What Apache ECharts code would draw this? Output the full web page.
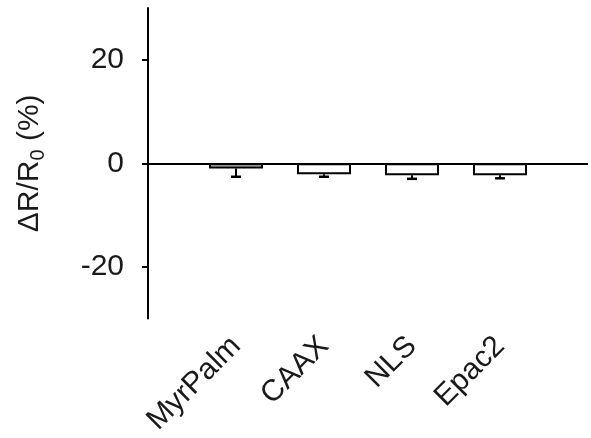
<!DOCTYPE html>
<html>
<head>
<meta charset="utf-8">
<script src="https://cdn.jsdelivr.net/npm/echarts@6/dist/echarts.min.js"></script>
<style>html,body{margin:0;padding:0;background:#fff}#c{width:591px;height:438px}</style>
</head>
<body>
<div id="c"></div>
<script>
const categories = ['MyrPalm', 'CAAX', 'NLS', 'Epac2'];
const means = [-1.0, -2.1, -2.3, -2.3];
const errors = [1.6, 0.5, 0.7, 0.6];
const fills = ['#c8c8c8', '#ffffff', '#ffffff', '#ffffff'];
const yTicks = [-20, 0, 20];

const cats = [''].concat(categories, ['']);
const barData = [null].concat(means.map((v, i) => ({ value: v, itemStyle: { color: fills[i] } })), [null]);
const errData = categories.map((c, i) => [i + 1, means[i], means[i] - errors[i]]);
const FONT = 'Liberation Sans, Arial, sans-serif';

const chart = echarts.init(document.getElementById('c'));
chart.setOption({
  animation: false,
  backgroundColor: '#fff',
  grid: { left: 148, right: 3, top: 8, bottom: 118, containLabel: false },
  xAxis: {
    type: 'category', data: cats, boundaryGap: false,
    axisLine: { show: false }, axisTick: { show: false },
    axisLabel: { rotate: 45, margin: 23, interval: 0, fontSize: 30, color: '#1a1a1a', fontFamily: FONT },
    splitLine: { show: false }
  },
  yAxis: {
    type: 'value', min: -30, max: 30, interval: 10,
    axisLine: { show: true, onZero: false, lineStyle: { color: '#000', width: 2 } },
    axisTick: { show: true, length: 6, customValues: yTicks, lineStyle: { color: '#000', width: 2 } },
    axisLabel: { customValues: yTicks, margin: 24, fontSize: 30, color: '#1a1a1a', fontFamily: FONT },
    splitLine: { show: false },
    name: '{a|ΔR/R}{b|0}{a| (%)}',
    nameLocation: 'middle', nameGap: 100,
    nameTextStyle: {
      rich: {
        a: { fontSize: 30, color: '#1a1a1a', fontFamily: FONT },
        b: { fontSize: 20, color: '#1a1a1a', fontFamily: FONT, verticalAlign: 'bottom', padding: [16, 0, 0, 0] }
      }
    }
  },
  series: [
    {
      type: 'bar', data: barData, barWidth: 54,
      itemStyle: { borderColor: '#000', borderWidth: 2 },
      markLine: {
        silent: true, symbol: 'none', label: { show: false },
        lineStyle: { color: '#000', width: 2, type: 'solid' },
        data: [{ yAxis: 0 }]
      },
      z: 2
    },
    {
      type: 'custom', data: errData, z: 3,
      renderItem: function (params, api) {
        const x = api.value(0);
        const p1 = api.coord([x, api.value(1)]);
        const p2 = api.coord([x, api.value(2)]);
        const hw = 5;
        return {
          type: 'group',
          children: [
            { type: 'line', shape: { x1: p1[0], y1: p1[1], x2: p2[0], y2: p2[1] }, style: { stroke: '#000', lineWidth: 2 } },
            { type: 'line', shape: { x1: p2[0] - hw, y1: p2[1], x2: p2[0] + hw, y2: p2[1] }, style: { stroke: '#000', lineWidth: 2.5 } }
          ]
        };
      }
    }
  ]
});
</script>
</body>
</html>
